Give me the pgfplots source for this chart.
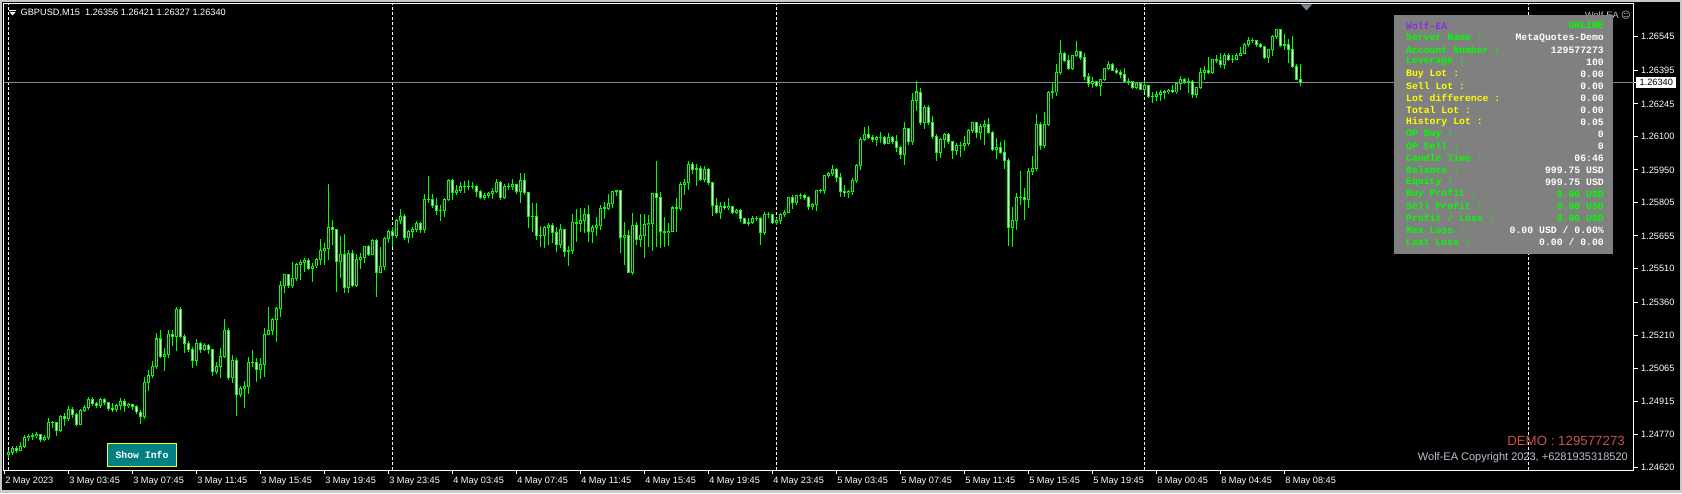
\documentclass[border=0pt]{standalone}
\usepackage{pgfplots}
\usepackage{pgfplotstable}
\usepackage{fontspec}
\setmainfont{Liberation Sans}
\newfontfamily\panelfont{Liberation Mono}
\newfontfamily\symfont{DejaVu Sans}
\pgfplotsset{compat=1.18}

\definecolor{candle}{RGB}{0,255,0}
\definecolor{priceline}{RGB}{119,136,153}
\definecolor{panelgray}{RGB}{128,128,128}
\definecolor{wolfviolet}{RGB}{138,43,226}
\definecolor{lblgreen}{RGB}{0,255,0}
\definecolor{lblyellow}{RGB}{255,255,0}
\definecolor{demored}{RGB}{205,80,80}
\definecolor{copygray}{RGB}{185,195,210}
\definecolor{btnteal}{RGB}{0,128,128}
\definecolor{chrome}{RGB}{200,200,200}
\definecolor{shiftgray}{RGB}{120,135,150}

\newcommand{\fs}[1]{\fontsize{#1}{#1}\selectfont}
% one row of the info panel: y, label colour, label, value colour, value
\newcommand{\prow}[5]{%
  \node[anchor=west,text=#2,inner sep=0pt,font=\panelfont\bfseries\fs{9.8}] at (1406,#1) {#3};
  \node[anchor=east,text=#4,inner sep=0pt,font=\panelfont\bfseries\fs{9.8}] at (1604,#1) {#5};}

% GBPUSD M15 bars, x = bar index from 3 May 00:00
\pgfplotstableread{
x o h l c
0 1.24677 1.24699 1.24663 1.24690
1 1.24690 1.24717 1.24677 1.24704
2 1.24704 1.24717 1.24686 1.24699
3 1.24699 1.24735 1.24695 1.24717
4 1.24717 1.24767 1.24708 1.24753
5 1.24753 1.24771 1.24740 1.24758
6 1.24758 1.24776 1.24744 1.24762
7 1.24762 1.24780 1.24753 1.24767
8 1.24767 1.24771 1.24735 1.24744
9 1.24744 1.24767 1.24740 1.24753
10 1.24753 1.24842 1.24744 1.24820
11 1.24820 1.24829 1.24797 1.24820
12 1.24820 1.24824 1.24762 1.24785
13 1.24785 1.24856 1.24780 1.24847
14 1.24847 1.24865 1.24806 1.24838
15 1.24838 1.24896 1.24829 1.24878
16 1.24878 1.24892 1.24842 1.24856
17 1.24856 1.24865 1.24806 1.24815
18 1.24815 1.24883 1.24811 1.24874
19 1.24874 1.24901 1.24869 1.24887
20 1.24887 1.24936 1.24878 1.24927
21 1.24927 1.24936 1.24896 1.24905
22 1.24905 1.24914 1.24887 1.24896
23 1.24896 1.24931 1.24887 1.24923
24 1.24923 1.24931 1.24901 1.24910
25 1.24910 1.24914 1.24874 1.24883
26 1.24883 1.24910 1.24869 1.24878
27 1.24878 1.24905 1.24869 1.24896
28 1.24896 1.24931 1.24878 1.24918
29 1.24918 1.24927 1.24869 1.24896
30 1.24896 1.24910 1.24887 1.24901
31 1.24901 1.24905 1.24878 1.24892
32 1.24892 1.24901 1.24860 1.24869
33 1.24869 1.24878 1.24815 1.24847
34 1.24847 1.25026 1.24838 1.24999
35 1.24999 1.25057 1.24963 1.25030
36 1.25030 1.25097 1.25021 1.25070
37 1.25070 1.25222 1.25061 1.25195
38 1.25195 1.25235 1.25110 1.25119
39 1.25119 1.25155 1.25052 1.25128
40 1.25128 1.25235 1.25110 1.25213
41 1.25213 1.25235 1.25164 1.25208
42 1.25208 1.25338 1.25142 1.25325
43 1.25325 1.25338 1.25199 1.25208
44 1.25208 1.25217 1.25133 1.25177
45 1.25177 1.25186 1.25137 1.25150
46 1.25150 1.25159 1.25066 1.25097
47 1.25097 1.25195 1.25074 1.25173
48 1.25173 1.25182 1.25133 1.25146
49 1.25146 1.25177 1.25142 1.25164
50 1.25164 1.25173 1.25128 1.25146
51 1.25146 1.25150 1.25030 1.25048
52 1.25048 1.25092 1.25039 1.25074
53 1.25074 1.25155 1.25021 1.25119
54 1.25119 1.25284 1.25110 1.25235
55 1.25235 1.25244 1.25012 1.25021
56 1.25021 1.25124 1.24999 1.25097
57 1.25097 1.25110 1.24851 1.24949
58 1.24949 1.24985 1.24936 1.24976
59 1.24976 1.25008 1.24887 1.24981
60 1.24981 1.25115 1.24949 1.25088
61 1.25088 1.25146 1.25070 1.25092
62 1.25092 1.25110 1.25003 1.25061
63 1.25061 1.25110 1.25017 1.25083
64 1.25083 1.25244 1.25026 1.25217
65 1.25217 1.25338 1.25213 1.25231
66 1.25231 1.25289 1.25213 1.25280
67 1.25280 1.25338 1.25182 1.25329
68 1.25329 1.25454 1.25294 1.25432
69 1.25432 1.25485 1.25401 1.25481
70 1.25481 1.25485 1.25423 1.25432
71 1.25432 1.25539 1.25423 1.25463
72 1.25463 1.25535 1.25454 1.25526
73 1.25526 1.25548 1.25459 1.25535
74 1.25535 1.25557 1.25494 1.25544
75 1.25544 1.25557 1.25503 1.25512
76 1.25512 1.25535 1.25450 1.25521
77 1.25521 1.25557 1.25512 1.25552
78 1.25552 1.25641 1.25526 1.25592
79 1.25592 1.25624 1.25526 1.25597
80 1.25597 1.25887 1.25548 1.25695
81 1.25695 1.25726 1.25615 1.25686
82 1.25686 1.25686 1.25405 1.25539
83 1.25539 1.25655 1.25467 1.25574
84 1.25574 1.25664 1.25401 1.25427
85 1.25427 1.25592 1.25401 1.25579
86 1.25579 1.25592 1.25427 1.25436
87 1.25436 1.25574 1.25427 1.25552
88 1.25552 1.25579 1.25508 1.25557
89 1.25557 1.25610 1.25535 1.25606
90 1.25606 1.25615 1.25566 1.25574
91 1.25574 1.25641 1.25570 1.25637
92 1.25637 1.25641 1.25383 1.25494
93 1.25494 1.25606 1.25494 1.25517
94 1.25517 1.25650 1.25503 1.25646
95 1.25646 1.25682 1.25624 1.25673
96 1.25673 1.25695 1.25606 1.25655
97 1.25655 1.25731 1.25646 1.25722
98 1.25722 1.25776 1.25708 1.25744
99 1.25744 1.25753 1.25637 1.25650
100 1.25650 1.25682 1.25624 1.25673
101 1.25673 1.25695 1.25646 1.25682
102 1.25682 1.25722 1.25673 1.25713
103 1.25713 1.25717 1.25669 1.25682
104 1.25682 1.25843 1.25669 1.25816
105 1.25816 1.25923 1.25803 1.25820
106 1.25820 1.25843 1.25780 1.25789
107 1.25789 1.25825 1.25749 1.25767
108 1.25767 1.25794 1.25722 1.25771
109 1.25771 1.25825 1.25740 1.25816
110 1.25816 1.25909 1.25812 1.25905
111 1.25905 1.25909 1.25816 1.25847
112 1.25847 1.25883 1.25838 1.25856
113 1.25856 1.25896 1.25847 1.25874
114 1.25874 1.25901 1.25847 1.25878
115 1.25878 1.25905 1.25860 1.25874
116 1.25874 1.25896 1.25865 1.25878
117 1.25878 1.25883 1.25829 1.25852
118 1.25852 1.25860 1.25820 1.25829
119 1.25829 1.25847 1.25816 1.25838
120 1.25838 1.25852 1.25825 1.25843
121 1.25843 1.25869 1.25820 1.25852
122 1.25852 1.25909 1.25847 1.25896
123 1.25896 1.25901 1.25816 1.25829
124 1.25829 1.25887 1.25820 1.25878
125 1.25878 1.25892 1.25860 1.25874
126 1.25874 1.25909 1.25860 1.25883
127 1.25883 1.25887 1.25843 1.25852
128 1.25852 1.25936 1.25803 1.25905
129 1.25905 1.25936 1.25838 1.25847
130 1.25847 1.25852 1.25691 1.25740
131 1.25740 1.25803 1.25673 1.25744
132 1.25744 1.25803 1.25637 1.25655
133 1.25655 1.25700 1.25606 1.25659
134 1.25659 1.25700 1.25601 1.25691
135 1.25691 1.25713 1.25615 1.25704
136 1.25704 1.25713 1.25624 1.25669
137 1.25669 1.25695 1.25584 1.25619
138 1.25619 1.25708 1.25601 1.25682
139 1.25682 1.25686 1.25561 1.25584
140 1.25584 1.25610 1.25521 1.25588
141 1.25588 1.25753 1.25574 1.25717
142 1.25717 1.25776 1.25628 1.25713
143 1.25713 1.25780 1.25673 1.25726
144 1.25726 1.25780 1.25669 1.25753
145 1.25753 1.25794 1.25628 1.25673
146 1.25673 1.25704 1.25624 1.25695
147 1.25695 1.25740 1.25655 1.25700
148 1.25700 1.25794 1.25682 1.25780
149 1.25780 1.25807 1.25731 1.25776
150 1.25776 1.25843 1.25771 1.25798
151 1.25798 1.25856 1.25780 1.25852
152 1.25852 1.25860 1.25834 1.25856
153 1.25856 1.25860 1.25579 1.25650
154 1.25650 1.25717 1.25526 1.25655
155 1.25655 1.25682 1.25490 1.25494
156 1.25494 1.25758 1.25481 1.25700
157 1.25700 1.25717 1.25615 1.25641
158 1.25641 1.25753 1.25606 1.25655
159 1.25655 1.25753 1.25557 1.25708
160 1.25708 1.25749 1.25606 1.25713
161 1.25713 1.25847 1.25588 1.25843
162 1.25843 1.25990 1.25606 1.25829
163 1.25829 1.25852 1.25601 1.25673
164 1.25673 1.25740 1.25606 1.25669
165 1.25669 1.25713 1.25610 1.25677
166 1.25677 1.25789 1.25673 1.25780
167 1.25780 1.25825 1.25673 1.25776
168 1.25776 1.25896 1.25767 1.25887
169 1.25887 1.25909 1.25838 1.25892
170 1.25892 1.25990 1.25860 1.25976
171 1.25976 1.25985 1.25932 1.25954
172 1.25954 1.25976 1.25878 1.25958
173 1.25958 1.25967 1.25901 1.25909
174 1.25909 1.25967 1.25896 1.25950
175 1.25950 1.25958 1.25883 1.25892
176 1.25892 1.25896 1.25744 1.25789
177 1.25789 1.25825 1.25753 1.25762
178 1.25762 1.25807 1.25731 1.25785
179 1.25785 1.25807 1.25771 1.25780
180 1.25780 1.25825 1.25771 1.25785
181 1.25785 1.25789 1.25753 1.25762
182 1.25762 1.25776 1.25753 1.25767
183 1.25767 1.25776 1.25717 1.25731
184 1.25731 1.25735 1.25708 1.25713
185 1.25713 1.25735 1.25700 1.25717
186 1.25717 1.25744 1.25708 1.25735
187 1.25735 1.25744 1.25722 1.25731
188 1.25731 1.25740 1.25615 1.25669
189 1.25669 1.25762 1.25659 1.25753
190 1.25753 1.25762 1.25735 1.25749
191 1.25749 1.25753 1.25708 1.25717
192 1.25717 1.25735 1.25704 1.25722
193 1.25722 1.25758 1.25708 1.25749
194 1.25749 1.25771 1.25740 1.25762
195 1.25762 1.25829 1.25758 1.25825
196 1.25825 1.25838 1.25776 1.25803
197 1.25803 1.25838 1.25794 1.25834
198 1.25834 1.25847 1.25820 1.25838
199 1.25838 1.25843 1.25816 1.25825
200 1.25825 1.25834 1.25771 1.25785
201 1.25785 1.25803 1.25771 1.25794
202 1.25794 1.25860 1.25767 1.25856
203 1.25856 1.25865 1.25847 1.25860
204 1.25860 1.25927 1.25843 1.25923
205 1.25923 1.25941 1.25914 1.25932
206 1.25932 1.25972 1.25923 1.25950
207 1.25950 1.25958 1.25896 1.25914
208 1.25914 1.25936 1.25829 1.25852
209 1.25852 1.25883 1.25829 1.25847
210 1.25847 1.25860 1.25825 1.25852
211 1.25852 1.25914 1.25838 1.25901
212 1.25901 1.25976 1.25892 1.25972
213 1.25972 1.26097 1.25950 1.26088
214 1.26088 1.26142 1.26079 1.26110
215 1.26110 1.26146 1.26088 1.26097
216 1.26097 1.26106 1.26075 1.26088
217 1.26088 1.26101 1.26057 1.26093
218 1.26093 1.26119 1.26070 1.26097
219 1.26097 1.26101 1.26061 1.26070
220 1.26070 1.26115 1.26066 1.26097
221 1.26097 1.26101 1.26066 1.26075
222 1.26075 1.26106 1.26030 1.26048
223 1.26048 1.26057 1.25999 1.26021
224 1.26021 1.26164 1.25972 1.26133
225 1.26133 1.26137 1.26061 1.26075
226 1.26075 1.26294 1.26061 1.26258
227 1.26258 1.26347 1.26213 1.26298
228 1.26298 1.26316 1.26151 1.26160
229 1.26160 1.26240 1.26133 1.26231
230 1.26231 1.26240 1.26151 1.26160
231 1.26160 1.26191 1.26088 1.26101
232 1.26101 1.26110 1.25990 1.26030
233 1.26030 1.26093 1.26003 1.26084
234 1.26084 1.26115 1.26048 1.26110
235 1.26110 1.26115 1.26066 1.26075
236 1.26075 1.26079 1.25999 1.26035
237 1.26035 1.26070 1.26017 1.26057
238 1.26057 1.26075 1.26008 1.26061
239 1.26061 1.26101 1.26035 1.26070
240 1.26070 1.26133 1.26057 1.26124
241 1.26124 1.26164 1.26115 1.26160
242 1.26160 1.26164 1.26093 1.26115
243 1.26115 1.26155 1.26084 1.26146
244 1.26146 1.26173 1.26061 1.26151
245 1.26151 1.26182 1.26110 1.26119
246 1.26119 1.26124 1.26035 1.26043
247 1.26043 1.26093 1.25999 1.26048
248 1.26048 1.26075 1.26021 1.26030
249 1.26030 1.26084 1.25954 1.25990
250 1.25990 1.26003 1.25610 1.25691
251 1.25691 1.25785 1.25606 1.25726
252 1.25726 1.25847 1.25682 1.25825
253 1.25825 1.25945 1.25794 1.25829
254 1.25829 1.25869 1.25726 1.25816
255 1.25816 1.25958 1.25780 1.25945
256 1.25945 1.26012 1.25927 1.25958
257 1.25958 1.26200 1.25945 1.26155
258 1.26155 1.26164 1.26039 1.26057
259 1.26057 1.26209 1.26048 1.26155
260 1.26155 1.26303 1.26146 1.26294
261 1.26294 1.26338 1.26267 1.26298
262 1.26298 1.26423 1.26280 1.26383
263 1.26383 1.26530 1.26374 1.26472
264 1.26472 1.26477 1.26432 1.26437
265 1.26437 1.26463 1.26396 1.26405
266 1.26405 1.26463 1.26396 1.26459
267 1.26459 1.26526 1.26454 1.26477
268 1.26477 1.26481 1.26441 1.26450
269 1.26450 1.26472 1.26352 1.26365
270 1.26365 1.26383 1.26320 1.26338
271 1.26338 1.26365 1.26316 1.26343
272 1.26343 1.26347 1.26320 1.26325
273 1.26325 1.26356 1.26280 1.26352
274 1.26352 1.26405 1.26347 1.26401
275 1.26401 1.26437 1.26396 1.26423
276 1.26423 1.26428 1.26392 1.26396
277 1.26396 1.26405 1.26378 1.26383
278 1.26383 1.26396 1.26361 1.26378
279 1.26378 1.26405 1.26343 1.26347
280 1.26347 1.26361 1.26329 1.26343
281 1.26343 1.26347 1.26311 1.26316
282 1.26316 1.26338 1.26311 1.26334
283 1.26334 1.26338 1.26307 1.26311
284 1.26311 1.26352 1.26298 1.26325
285 1.26325 1.26329 1.26271 1.26276
286 1.26276 1.26298 1.26249 1.26280
287 1.26280 1.26303 1.26258 1.26289
288 1.26289 1.26307 1.26258 1.26294
289 1.26294 1.26307 1.26267 1.26298
290 1.26298 1.26311 1.26289 1.26303
291 1.26303 1.26329 1.26294 1.26298
292 1.26298 1.26338 1.26289 1.26334
293 1.26334 1.26370 1.26307 1.26352
294 1.26352 1.26361 1.26334 1.26343
295 1.26343 1.26361 1.26294 1.26347
296 1.26347 1.26352 1.26271 1.26289
297 1.26289 1.26320 1.26271 1.26316
298 1.26316 1.26405 1.26311 1.26387
299 1.26387 1.26414 1.26352 1.26396
300 1.26396 1.26454 1.26378 1.26383
301 1.26383 1.26445 1.26378 1.26441
302 1.26441 1.26463 1.26428 1.26437
303 1.26437 1.26472 1.26405 1.26419
304 1.26419 1.26472 1.26401 1.26459
305 1.26459 1.26472 1.26437 1.26441
306 1.26441 1.26463 1.26428 1.26445
307 1.26445 1.26472 1.26441 1.26463
308 1.26463 1.26499 1.26459 1.26472
309 1.26472 1.26517 1.26468 1.26508
310 1.26508 1.26544 1.26499 1.26530
311 1.26530 1.26539 1.26517 1.26526
312 1.26526 1.26530 1.26499 1.26508
313 1.26508 1.26517 1.26495 1.26499
314 1.26499 1.26504 1.26445 1.26450
315 1.26450 1.26490 1.26428 1.26486
316 1.26486 1.26553 1.26459 1.26548
317 1.26548 1.26579 1.26535 1.26575
318 1.26575 1.26579 1.26499 1.26504
319 1.26504 1.26557 1.26486 1.26508
320 1.26508 1.26535 1.26428 1.26490
321 1.26490 1.26548 1.26405 1.26410
322 1.26410 1.26423 1.26352 1.26356
323 1.26356 1.26421 1.26327 1.26340
}\candles

\begin{document}
\begin{tikzpicture}
\useasboundingbox (-4pt,-23pt) rectangle (1678pt,470pt);
% window chrome and black chart background, in screen pixels
\begin{scope}[shift={(-4pt,470pt)}, x=1pt, y=-1pt]
  \fill[chrome] (0,0) rectangle (1682,493);
  \fill[black] (2,2) rectangle (1680,490);
\end{scope}

\begin{axis}[
    at={(0,0)}, anchor=south west,
    scale only axis, width=1630pt, height=466pt,
    xmin=-1.15, xmax=406.35,
    ymin=1.24610, ymax=1.26691,
    axis line style={white, line width=1pt},
    tick style={white, line width=1pt},
    major tick length=4pt, tick align=outside,
    xtick pos=left, ytick pos=right, yticklabel pos=right,
    xtick={-1,15,...,319},
    xticklabels={2 May 2023, 3 May 03:45, 3 May 07:45, 3 May 11:45, 3 May 15:45,
      3 May 19:45, 3 May 23:45, 4 May 03:45, 4 May 07:45, 4 May 11:45, 4 May 15:45,
      4 May 19:45, 4 May 23:45, 5 May 03:45, 5 May 07:45, 5 May 11:45, 5 May 15:45,
      5 May 19:45, 8 May 00:45, 8 May 04:45, 8 May 08:45},
    xticklabel style={anchor=north west, inner sep=0pt, text=white,
      font=\fs{9.2}, xshift=0.5pt, yshift=-2.5pt},
    ytick={1.26545,1.26395,1.26245,1.26100,1.25950,1.25805,1.25655,
      1.25510,1.25360,1.25210,1.25065,1.24915,1.24770,1.24620},
    yticklabels={1.26545,1.26395,1.26245,1.26100,1.25950,1.25805,1.25655,
      1.25510,1.25360,1.25210,1.25065,1.24915,1.24770,1.24620},
    yticklabel style={anchor=west, inner sep=0pt, text=white, font=\fs{9.2}, xshift=3pt},
    extra x ticks={0,96,192,284,380},
    extra x tick labels={},
    extra x tick style={major tick length=0pt, grid=major,
      major grid style={white, line width=1pt, dash pattern=on 3pt off 2pt}},
    extra y ticks={1.26340},
    extra y tick labels={1.26340},
    extra y tick style={grid=major, major grid style={priceline, line width=1pt},
      yticklabel style={fill=white, text=black, inner xsep=3.5pt, inner ysep=2.5pt, xshift=-5pt}},
]
% wicks
\addplot[candle, line width=1pt, quiver={u=0, v={\thisrow{h}-\thisrow{l}}}]
  table[x=x, y=l] {\candles};
% body outlines
\addplot[candle, line width=3pt, quiver={u=0, v={abs(\thisrow{c}-\thisrow{o})+0.0000447}}]
  table[x=x, y expr={min(\thisrow{o},\thisrow{c})-0.0000223}] {\candles};
% hollow bull bodies
\addplot[black, line width=1pt, quiver={u=0, v={max(\thisrow{c}-\thisrow{o}-0.0000447,0)}}]
  table[x=x, y expr={\thisrow{o}+0.0000223}] {\candles};
% filled bear bodies
\addplot[white, line width=1pt, quiver={u=0, v={max(\thisrow{o}-\thisrow{c}-0.0000447,0)}}]
  table[x=x, y expr={\thisrow{c}+0.0000223}] {\candles};
\end{axis}

\begin{scope}[shift={(-4pt,470pt)}, x=1pt, y=-1pt]
  % header
  \fill[white] (9,10) rectangle (16,11);
  \fill[white] (9.5,12) -- (15.5,12) -- (12.5,15.5) -- cycle;
  \node[anchor=west, text=white, inner sep=0pt, font=\fs{9.2}] at (20.5,12.5)
    {GBPUSD,M15\ \ 1.26356 1.26421 1.26327 1.26340};
  \fill[shiftgray] (1301,4.5) -- (1312,4.5) -- (1306.5,10.5) -- cycle;
  \node[anchor=base east, text=copygray, inner sep=0pt, font=\fs{9.2}] at (1631,18.5)
    {Wolf-EA {\symfont ☺}};
  % info panel
  \fill[panelgray] (1394,15) rectangle (1613,254);
  \prow{25.7}{wolfviolet}{Wolf-EA}{lblgreen}{ONLINE}
  \prow{37.7}{lblgreen}{Server Name :}{white}{MetaQuotes-Demo}
  \prow{49.8}{lblgreen}{Account Number :}{white}{129577273}
  \prow{61.8}{lblgreen}{Leverage :}{white}{100}
  \prow{73.9}{lblyellow}{Buy Lot :}{white}{0.00}
  \prow{85.9}{lblyellow}{Sell Lot :}{white}{0.00}
  \prow{97.9}{lblyellow}{Lot difference :}{white}{0.00}
  \prow{110.0}{lblyellow}{Total Lot :}{white}{0.00}
  \prow{122.0}{lblyellow}{History Lot :}{white}{0.05}
  \prow{134.1}{lblgreen}{OP Buy :}{white}{0}
  \prow{146.1}{lblgreen}{OP Sell :}{white}{0}
  \prow{158.1}{lblgreen}{Candle Time :}{white}{06:46}
  \prow{170.2}{lblgreen}{Balance :}{white}{999.75 USD}
  \prow{182.2}{lblgreen}{Equity :}{white}{999.75 USD}
  \prow{194.3}{lblgreen}{Buy Profit :}{lblgreen}{0.00 USD}
  \prow{206.3}{lblgreen}{Sell Profit :}{lblgreen}{0.00 USD}
  \prow{218.3}{lblgreen}{Profit / Loss :}{lblgreen}{0.00 USD}
  \prow{230.4}{lblgreen}{Max Loss :}{white}{0.00 USD / 0.00\%}
  \prow{242.4}{lblgreen}{Last Loss :}{white}{0.00 / 0.00}
  % button
  \draw[lblyellow, fill=btnteal, line width=1pt] (107.5,443.5) rectangle (176.5,466.5);
  \node[text=white, inner sep=0pt, font=\panelfont\bfseries\fs{9.8}] at (142,455) {Show Info};
  % footer texts
  \node[anchor=east, text=demored, inner sep=0pt, font=\fs{13.3}] at (1625,441) {DEMO : 129577273};
  \node[anchor=east, text=copygray, inner sep=0pt, font=\fs{11}] at (1628,458)
    {Wolf-EA Copyright 2023, +6281935318520};
\end{scope}
\end{tikzpicture}
\end{document}
